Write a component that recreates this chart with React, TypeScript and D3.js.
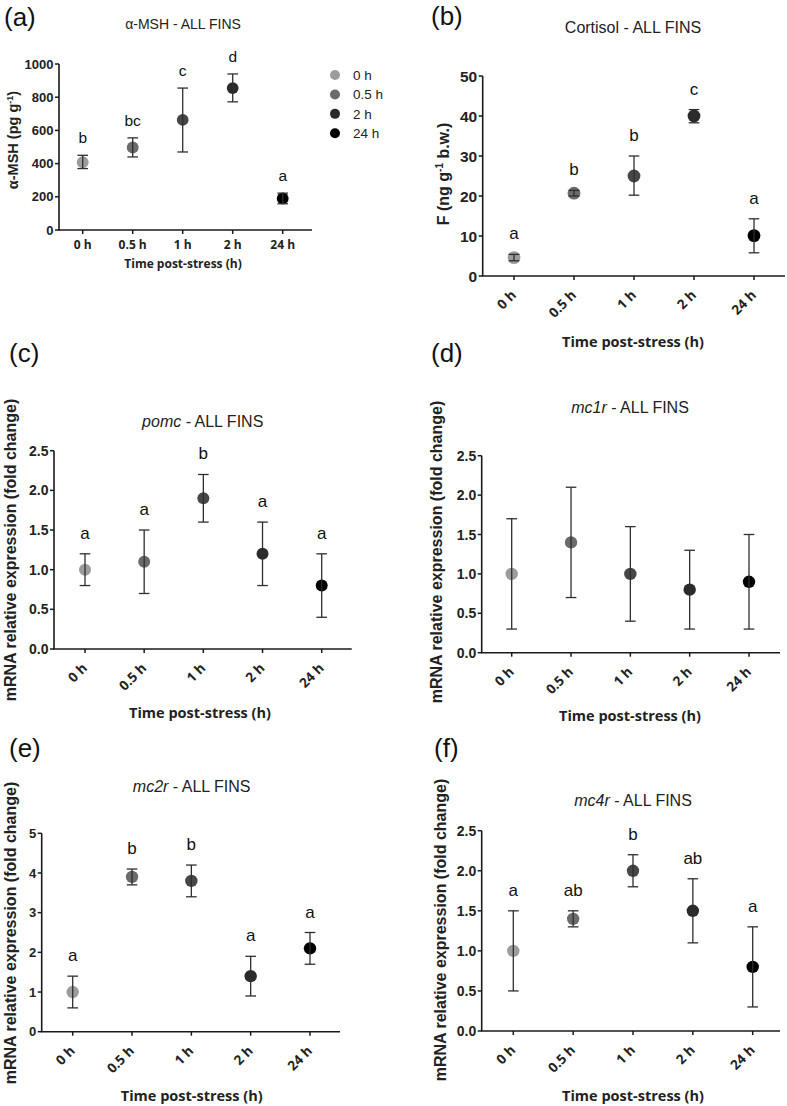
import React from "react";
import * as d3 from "d3";

const categories = ["0 h", "0.5 h", "1 h", "2 h", "24 h"];
const pointColors = ["#9c9c9c", "#6b6b6b", "#474747", "#2b2b2b", "#000000"];

const legendLabels = ["0 h", "0.5 h", "2 h", "24 h"];
const legendColors = ["#9c9c9c", "#6b6b6b", "#2b2b2b", "#000000"];

// (a) alpha-MSH
const mshMean = [408, 497, 663, 855, 190];
const mshLow = [370, 440, 470, 772, 158];
const mshHigh = [450, 555, 855, 940, 222];
const mshLetters = ["b", "bc", "c", "d", "a"];

// (b) Cortisol
const cortMean = [4.6, 20.7, 25, 40, 10.1];
const cortLow = [3.8, 20.0, 20.2, 38.3, 5.8];
const cortHigh = [5.4, 21.4, 30.0, 41.6, 14.3];
const cortLetters = ["a", "b", "b", "c", "a"];

// (c) pomc
const pomcMean = [1.0, 1.1, 1.9, 1.2, 0.8];
const pomcLow = [0.8, 0.7, 1.6, 0.8, 0.4];
const pomcHigh = [1.2, 1.5, 2.2, 1.6, 1.2];
const pomcLetters = ["a", "a", "b", "a", "a"];

// (d) mc1r
const mc1rMean = [1.0, 1.4, 1.0, 0.8, 0.9];
const mc1rLow = [0.3, 0.7, 0.4, 0.3, 0.3];
const mc1rHigh = [1.7, 2.1, 1.6, 1.3, 1.5];
const mc1rLetters = ["", "", "", "", ""];

// (e) mc2r
const mc2rMean = [1.0, 3.9, 3.8, 1.4, 2.1];
const mc2rLow = [0.6, 3.7, 3.4, 0.9, 1.7];
const mc2rHigh = [1.4, 4.1, 4.2, 1.9, 2.5];
const mc2rLetters = ["a", "b", "b", "a", "a"];

// (f) mc4r
const mc4rMean = [1.0, 1.4, 2.0, 1.5, 0.8];
const mc4rLow = [0.5, 1.3, 1.8, 1.1, 0.3];
const mc4rHigh = [1.5, 1.5, 2.2, 1.9, 1.3];
const mc4rLetters = ["a", "ab", "b", "ab", "a"];

const ARIAL = "'Liberation Sans', Arial, sans-serif";
const OPEN = "'Open Sans', 'Liberation Sans', sans-serif";
const AX = "#1a1a1a";
const BAR = "#2e2e2e";

type Cfg = {
  tag: string;
  tagX: number;
  tagY: number;
  left: number;
  right: number;
  x0: number;
  x4: number;
  top: number;
  bottom: number;
  max: number;
  step: number;
  fmt: string;
  yTickSize: number;
  xTickSize: number;
  rotate: boolean;
  title: React.ReactNode;
  titleX: number;
  titleY: number;
  titleSize: number;
  yLabel: React.ReactNode;
  yLabelX: number;
  yLabelY: number;
  yLabelSize: number;
  xLabelX: number;
  xLabelY: number;
  xLabelSize: number;
  mean: number[];
  low: number[];
  high: number[];
  letters: string[];
  letterGap: number;
  letterSize: number;
  r: number;
};

function Panel({ c }: { c: Cfg }) {
  const x = d3.scalePoint<string>().domain(categories).range([c.x0, c.x4]);
  const y = d3.scaleLinear().domain([0, c.max]).range([c.bottom, c.top]);
  const ticks = d3.range(0, c.max + c.step / 2, c.step);
  const f = d3.format(c.fmt);
  const cap = 5.3;
  return (
    <g>
      <text x={c.tagX} y={c.tagY} fontFamily={ARIAL} fontSize={26} fill="#111">
        {c.tag}
      </text>
      <text x={c.titleX} y={c.titleY} fontFamily={ARIAL} fontSize={c.titleSize} textAnchor="middle" fill="#222">
        {c.title}
      </text>
      {/* y axis */}
      <line x1={c.left} x2={c.left} y1={y(0)} y2={y(c.max)} stroke={AX} strokeWidth={1.6} />
      {ticks.map((t, i) => (
        <g key={"yt" + i}>
          <line x1={c.left - 4} x2={c.left} y1={y(t)} y2={y(t)} stroke={AX} strokeWidth={1.5} />
          <text
            x={c.left - 5.5}
            y={y(t)}
            dy="0.36em"
            textAnchor="end"
            fontFamily={ARIAL}
            fontWeight="bold"
            fontSize={c.yTickSize}
            fill="#222"
          >
            {f(t)}
          </text>
        </g>
      ))}
      {/* x axis */}
      <line x1={c.left - 0.8} x2={c.right} y1={y(0)} y2={y(0)} stroke={AX} strokeWidth={1.6} />
      {categories.map((cat) => (
        <g key={"xt" + cat}>
          <line x1={x(cat)} x2={x(cat)} y1={y(0)} y2={y(0) + 4} stroke={AX} strokeWidth={1.5} />
          {c.rotate ? (
            <g transform={`translate(${(x(cat) as number) + 3},${y(0) + 20}) rotate(-45)`}>
              <text
                x={0}
                y={0}
                textAnchor="end"
                fontFamily={OPEN}
                fontWeight="bold"
                fontSize={c.xTickSize}
                fill="#222"
              >
                {cat}
              </text>
            </g>
          ) : (
            <text
              x={x(cat)}
              y={y(0) + 19}
              textAnchor="middle"
              fontFamily={OPEN}
              fontWeight="bold"
              fontSize={c.xTickSize}
              fill="#222"
            >
              {cat}
            </text>
          )}
        </g>
      ))}
      <text x={c.xLabelX} y={c.xLabelY} textAnchor="middle" fontFamily={OPEN} fontWeight="bold" fontSize={c.xLabelSize} fill="#222">
        Time post-stress (h)
      </text>
      <g transform={`translate(${c.yLabelX},${c.yLabelY}) rotate(-90)`}>
        <text
          x={0}
          y={0}
          textAnchor="middle"
          fontFamily={ARIAL}
          fontWeight="bold"
          fontSize={c.yLabelSize}
          fill="#222"
        >
          {c.yLabel}
        </text>
      </g>
      {/* points */}
      {categories.map((cat, i) => (
        <circle key={"pt" + i} cx={x(cat)} cy={y(c.mean[i])} r={c.r} fill={pointColors[i]} />
      ))}
      {/* error bars */}
      {categories.map((cat, i) => {
        const cx = x(cat) as number;
        return (
          <g key={"eb" + i} stroke={BAR} strokeWidth={1.3}>
            <line x1={cx} x2={cx} y1={y(c.low[i])} y2={y(c.high[i])} />
            <line x1={cx - cap} x2={cx + cap} y1={y(c.low[i])} y2={y(c.low[i])} />
            <line x1={cx - cap} x2={cx + cap} y1={y(c.high[i])} y2={y(c.high[i])} />
          </g>
        );
      })}
      {categories.map((cat, i) =>
        c.letters[i] ? (
          <text
            key={"lt" + i}
            x={x(cat)}
            y={y(c.high[i]) - c.letterGap}
            textAnchor="middle"
            fontFamily={ARIAL}
            fontSize={c.letterSize}
            fill="#111"
          >
            {c.letters[i]}
          </text>
        ) : null
      )}
    </g>
  );
}

const mrnaLabel = "mRNA relative expression (fold change)";

const panels: Cfg[] = [
  {
    tag: "(a)", tagX: 4, tagY: 26,
    left: 59, right: 312, x0: 82.7, x4: 282.7, top: 64, bottom: 230, max: 1000, step: 200, fmt: "d",
    yTickSize: 13, xTickSize: 12, rotate: false,
    title: "α-MSH - ALL FINS", titleX: 183, titleY: 29, titleSize: 14,
    yLabel: (<>α-MSH (pg g<tspan dy={-5} fontSize={9}>-1</tspan><tspan dy={5}>)</tspan></>),
    yLabelX: 18, yLabelY: 140, yLabelSize: 14.5,
    xLabelX: 183, xLabelY: 268, xLabelSize: 12,
    mean: mshMean, low: mshLow, high: mshHigh, letters: mshLetters, letterGap: 12, letterSize: 15.5, r: 5.9,
  },
  {
    tag: "(b)", tagX: 431, tagY: 25,
    left: 482.7, right: 785, x0: 514, x4: 754, top: 76, bottom: 276, max: 50, step: 10, fmt: "d",
    yTickSize: 15.5, xTickSize: 13.5, rotate: true,
    title: "Cortisol - ALL FINS", titleX: 633, titleY: 33, titleSize: 16,
    yLabel: (<>F (ng g<tspan dy={-6} fontSize={10}>-1</tspan><tspan dy={6}> b.w.)</tspan></>),
    yLabelX: 449, yLabelY: 174, yLabelSize: 16,
    xLabelX: 633, xLabelY: 347, xLabelSize: 14.5,
    mean: cortMean, low: cortLow, high: cortHigh, letters: cortLetters, letterGap: 15, letterSize: 17, r: 6.4,
  },
  {
    tag: "(c)", tagX: 9, tagY: 362,
    left: 54, right: 351.7, x0: 85, x4: 321.7, top: 450.7, bottom: 649, max: 2.5, step: 0.5, fmt: ".1f",
    yTickSize: 14, xTickSize: 13.5, rotate: true,
    title: (<><tspan fontStyle="italic">pomc</tspan> - ALL FINS</>), titleX: 202.7, titleY: 427, titleSize: 16,
    yLabel: mrnaLabel, yLabelX: 16, yLabelY: 550, yLabelSize: 16,
    xLabelX: 200, xLabelY: 718, xLabelSize: 14.5,
    mean: pomcMean, low: pomcLow, high: pomcHigh, letters: pomcLetters, letterGap: 15, letterSize: 17, r: 6,
  },
  {
    tag: "(d)", tagX: 431, tagY: 362,
    left: 481.7, right: 780, x0: 511.7, x4: 749, top: 455.7, bottom: 652.7, max: 2.5, step: 0.5, fmt: ".1f",
    yTickSize: 14, xTickSize: 13.5, rotate: true,
    title: (<><tspan fontStyle="italic">mc1r</tspan> - ALL FINS</>), titleX: 630, titleY: 413, titleSize: 16,
    yLabel: mrnaLabel, yLabelX: 442, yLabelY: 552, yLabelSize: 16,
    xLabelX: 630, xLabelY: 721, xLabelSize: 14.5,
    mean: mc1rMean, low: mc1rLow, high: mc1rHigh, letters: mc1rLetters, letterGap: 15, letterSize: 17, r: 6.2,
  },
  {
    tag: "(e)", tagX: 9, tagY: 757,
    left: 41.7, right: 340, x0: 72.7, x4: 310, top: 833.3, bottom: 1031.7, max: 5, step: 1, fmt: "d",
    yTickSize: 13, xTickSize: 13.5, rotate: true,
    title: (<><tspan fontStyle="italic">mc2r</tspan> - ALL FINS</>), titleX: 191.7, titleY: 792, titleSize: 16,
    yLabel: mrnaLabel, yLabelX: 16, yLabelY: 933, yLabelSize: 16,
    xLabelX: 191.7, xLabelY: 1101, xLabelSize: 14.5,
    mean: mc2rMean, low: mc2rLow, high: mc2rHigh, letters: mc2rLetters, letterGap: 15, letterSize: 17, r: 6.2,
  },
  {
    tag: "(f)", tagX: 434, tagY: 757,
    left: 481.7, right: 780, x0: 513.3, x4: 752.7, top: 830.7, bottom: 1031, max: 2.5, step: 0.5, fmt: ".1f",
    yTickSize: 14, xTickSize: 13.5, rotate: true,
    title: (<><tspan fontStyle="italic">mc4r</tspan> - ALL FINS</>), titleX: 633, titleY: 806, titleSize: 16,
    yLabel: mrnaLabel, yLabelX: 446, yLabelY: 930, yLabelSize: 16,
    xLabelX: 633, xLabelY: 1101, xLabelSize: 14.5,
    mean: mc4rMean, low: mc4rLow, high: mc4rHigh, letters: mc4rLetters, letterGap: 15, letterSize: 17, r: 6.2,
  },
];

function Legend() {
  const ly = d3.scalePoint<string>().domain(legendLabels).range([75, 133.3]);
  return (
    <g>
      {legendLabels.map((l, i) => (
        <g key={l}>
          <circle cx={335} cy={ly(l)} r={5} fill={legendColors[i]} />
          <text x={353} y={ly(l)} dy="0.36em" fontFamily={ARIAL} fontSize={13.5} fill="#222">
            {l}
          </text>
        </g>
      ))}
    </g>
  );
}

export default function App() {
  return (
    <svg
      width={787}
      height={1106}
      viewBox="0 0 787 1106"
      style={{ position: "absolute", left: 0, top: 0, background: "#fff" }}
    >
      <rect x={0} y={0} width={787} height={1106} fill="#fff" />
      {panels.map((p) => (
        <Panel key={p.tag} c={p} />
      ))}
      <Legend />
    </svg>
  );
}
